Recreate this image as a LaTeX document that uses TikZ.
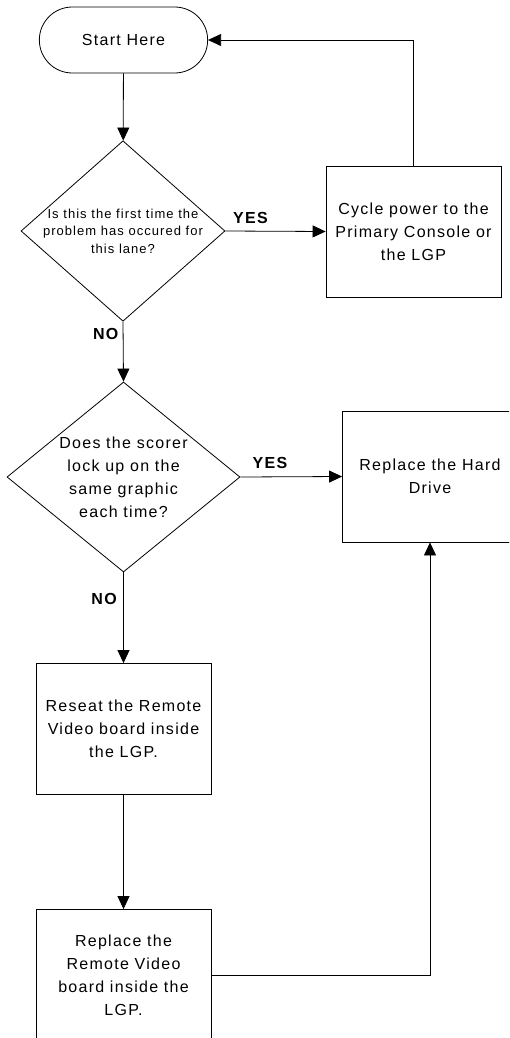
\documentclass[tikz,border=0pt]{standalone}
\usepackage{fontspec}
\setmainfont{Liberation Sans}[LetterSpace=8]
\usetikzlibrary{arrows.meta,shapes.geometric,shapes.misc}

\begin{document}
\begin{tikzpicture}[x=1pt,y=-1pt,>={Triangle[length=13pt,width=12pt]},line width=0.8pt,
term/.style={rounded rectangle,draw,minimum width=175pt,minimum height=66pt,font=\fontsize{16}{23}\selectfont},
act/.style={rectangle,draw,minimum width=175pt,minimum height=131pt,align=center,font=\fontsize{16}{23}\selectfont},
dec/.style={diamond,draw,inner sep=-6pt,align=center},
lab/.style={font=\fontsize{16}{19}\selectfont\bfseries}]
\useasboundingbox (0,0) rectangle (509,1038);
\clip (0,0) rectangle (509,1038);
\node[term] (start) at (123.5,40) {Start Here};
\node[dec,minimum width=204pt,minimum height=152pt,font=\fontsize{13}{17.5}\selectfont] (q1) at (123,231)
  {Is this the first time the\\problem has occured for\\this lane?};
\node[act] (cycle) at (413.5,231.5) {Cycle power to the\\Primary Console or\\the LGP};
\node[dec,minimum width=233pt,minimum height=190pt,font=\fontsize{16}{23}\selectfont] (q2) at (123.5,477)
  {Does the scorer\\lock up on the\\same graphic\\each time?};
\node[act] (drive) at (430,476.5) {Replace the Hard\\Drive};
\node[act] (reseat) at (123.5,729) {Reseat the Remote\\Video board inside\\the LGP.};
\node[act] (rvideo) at (123.5,975) {Replace the\\Remote Video\\board inside the\\LGP.};
\draw[->] (start) -- (q1);
\draw[->] (q1.east) -- node[lab,pos=0.25,above=4pt] (yes1) {YES} (cycle.west);
\draw[->] (cycle.north) |- (start.east);
\draw[->] (q1.south) -- node[lab,pos=0.21,left=1pt] (no1) {NO} (q2.north);
\draw[->] (q2.east) -- node[lab,pos=0.29,above=4pt] (yes2) {YES} (drive.west);
\draw[->] (q2.south) -- node[lab,pos=0.29,left=3pt] (no2) {NO} (reseat.north);
\draw[->] (reseat) -- (rvideo);
\draw[->] (rvideo.east) -| (drive.south);
\end{tikzpicture}
\end{document}
